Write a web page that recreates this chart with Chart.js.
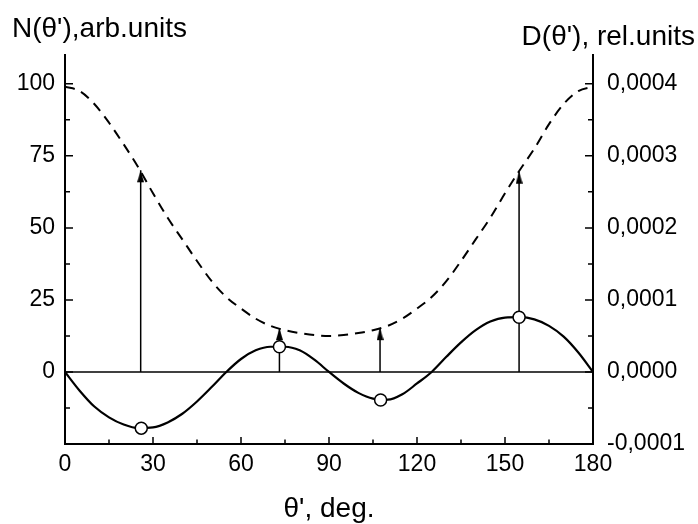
<!DOCTYPE html>
<html>
<head>
<meta charset="utf-8">
<script src="https://cdn.jsdelivr.net/npm/chart.js@4/dist/chart.umd.min.js"></script>
<style>
  body { margin: 0; background: #fff; }
  #wrap { width: 698px; height: 524px; }
</style>
</head>
<body>
<div id="wrap"><canvas id="chart" width="698" height="524"></canvas></div>
<script>
// angle grid, deg
const theta = [0, 5, 10, 15, 20, 25, 30, 35, 40, 45, 50, 55, 60, 65, 70, 75, 80, 85, 90,
               95, 100, 105, 110, 115, 120, 125, 130, 135, 140, 145, 150, 155, 160, 165, 170, 175, 180];
// N(theta'), arb.units (dashed, left axis)
const n_values = [99, 97.5, 93, 86.5, 79, 71, 62, 53.5, 46, 38.5, 31.5, 26, 22, 18.5, 16, 14.5, 13.5, 12.8, 12.5,
                  12.8, 13.5, 14.5, 16, 18.5, 22, 26, 31.5, 38.5, 46, 53.5, 62, 70, 77.5, 86, 93, 97.5, 99];
// D(theta'), rel.units (solid, right axis)
const d_values = [0, -26e-6, -48e-6, -63e-6, -73e-6, -78e-6, -77e-6, -70e-6, -58e-6, -41e-6, -21e-6, 0, 18e-6, 30e-6, 35e-6, 35e-6, 30e-6, 17e-6, 0,
                  -16e-6, -29e-6, -37e-6, -38.5e-6, -31e-6, -16e-6, 0, 21e-6, 41e-6, 58e-6, 70e-6, 75.5e-6, 76e-6, 73e-6, 64e-6, 49e-6, 27e-6, 0];
// arrows from zero up to N
const arrow_theta = [25.8, 73.1, 107.4, 154.8];
const arrow_top = [70, 15.2, 15.2, 69.5];
// open circles on D
const circle_theta = [26, 73.1, 107.6, 154.8];
const circle_d = [-78e-6, 35e-6, -39e-6, 76e-6];

const x_ticks = [0, 30, 60, 90, 120, 150, 180];
const y_ticks = [-25, 0, 25, 50, 75, 100];
const y2_ticks = [-0.0001, 0, 0.0001, 0.0002, 0.0003, 0.0004];

const FONT = "'Liberation Sans', Arial, sans-serif";

function make_arrow_head() {
    const c = document.createElement("canvas");
    c.width = 7; c.height = 26;
    const g = c.getContext("2d");
    g.fillStyle = "#000";
    g.beginPath();
    g.moveTo(3.5, 13); g.lineTo(7, 25); g.lineTo(0, 25); g.closePath();
    g.fill();
    return c;
}

function pairs(xs, ys) {
    return xs.map(function (x, i) { return {x: x, y: ys[i]}; });
}

function set_ticks(list) {
    return function (scale) { scale.ticks = list.map(function (v) { return {value: v}; }); };
}

const arrow_head = make_arrow_head();

const stem_sets = arrow_theta.map(function (t, i) {
    return {
        data: [{x: t, y: 0}, {x: t, y: arrow_top[i]}],
        yAxisID: "y", showLine: true,
        borderColor: "#000", borderWidth: 1.5,
        pointStyle: ["circle", arrow_head], pointRadius: [0, 5],
        order: 3
    };
});

// inward ticks and the three texts
const decor = {
    id: "decor",
    afterDraw: function (chart) {
        const ctx = chart.ctx;
        const a = chart.chartArea;
        const sx = chart.scales.x, sy = chart.scales.y, sy2 = chart.scales.y2;
        ctx.save();
        ctx.strokeStyle = "#000";
        ctx.lineWidth = 1.5;
        ctx.beginPath();
        for (let v = 0; v <= 180; v += 15) {
            const px = sx.getPixelForValue(v);
            const len = v % 30 === 0 ? 7 : 4.5;
            ctx.moveTo(px, a.bottom); ctx.lineTo(px, a.bottom - len);
        }
        for (let v = -25; v <= 100; v += 12.5) {
            const py = sy.getPixelForValue(v);
            const len = v % 25 === 0 ? 8 : 5;
            ctx.moveTo(a.left, py); ctx.lineTo(a.left + len, py);
        }
        for (let k = -2; k <= 8; k++) {
            const py = sy2.getPixelForValue(k * 0.00005);
            const len = k % 2 === 0 ? 8 : 5;
            ctx.moveTo(a.right, py); ctx.lineTo(a.right - len, py);
        }
        ctx.stroke();

        ctx.fillStyle = "#000";
        ctx.font = "28px " + FONT;
        ctx.textBaseline = "alphabetic";
        ctx.textAlign = "left";
        ctx.fillText("N(\u03b8'),arb.units", 12, 37);
        ctx.textAlign = "right";
        ctx.fillText("D(\u03b8'), rel.units", 695, 45);
        ctx.textAlign = "center";
        ctx.fillText("\u03b8', deg.", (a.left + a.right) / 2, 517);
        ctx.restore();
    }
};

new Chart(document.getElementById("chart"), {
    type: "scatter",
    data: {
        datasets: [
            {
                data: pairs(circle_theta, circle_d), yAxisID: "y2",
                pointRadius: 6, pointBorderWidth: 1.5,
                pointBackgroundColor: "#fff", pointBorderColor: "#000",
                order: 0
            },
            {
                data: pairs(theta, d_values), yAxisID: "y2", showLine: true,
                borderColor: "#000", borderWidth: 2.2, pointRadius: 0,
                cubicInterpolationMode: "monotone",
                order: 1
            },
            {
                data: pairs(theta, n_values), yAxisID: "y", showLine: true,
                borderColor: "#000", borderWidth: 2, borderDash: [10, 7], pointRadius: 0,
                cubicInterpolationMode: "monotone",
                order: 2
            },
            {
                data: [{x: 0, y: 0}, {x: 180, y: 0}], yAxisID: "y", showLine: true,
                borderColor: "#000", borderWidth: 1.5, pointRadius: 0,
                order: 4
            }
        ].concat(stem_sets)
    },
    options: {
        responsive: false,
        animation: false,
        events: [],
        layout: {padding: {top: 55, left: 0, right: 0, bottom: 0}},
        plugins: {legend: {display: false}, tooltip: {enabled: false}},
        scales: {
            x: {
                type: "linear", min: 0, max: 180,
                afterBuildTicks: set_ticks(x_ticks),
                afterFit: function (s) { s.height = 80; },
                grid: {display: false, drawTicks: false},
                border: {display: true, color: "#000", width: 2},
                ticks: {color: "#000", padding: 7, font: {family: FONT, size: 23}}
            },
            y: {
                type: "linear", position: "left", min: -25, max: 110,
                afterBuildTicks: set_ticks(y_ticks),
                afterFit: function (s) { s.width = 65; },
                grid: {display: false, drawTicks: false},
                border: {display: true, color: "#000", width: 2},
                ticks: {
                    color: "#000", padding: 10, font: {family: FONT, size: 23},
                    callback: function (v) { return v === -25 ? "" : String(v); }
                }
            },
            y2: {
                type: "linear", position: "right", min: -0.0001, max: 0.00044,
                afterBuildTicks: set_ticks(y2_ticks),
                afterFit: function (s) { s.width = 105; },
                grid: {display: false, drawTicks: false},
                border: {display: true, color: "#000", width: 2},
                ticks: {
                    color: "#000", padding: 14, font: {family: FONT, size: 23},
                    callback: function (v) { return v.toFixed(4).replace(".", ","); }
                }
            }
        }
    },
    plugins: [decor]
});
</script>
</body>
</html>
